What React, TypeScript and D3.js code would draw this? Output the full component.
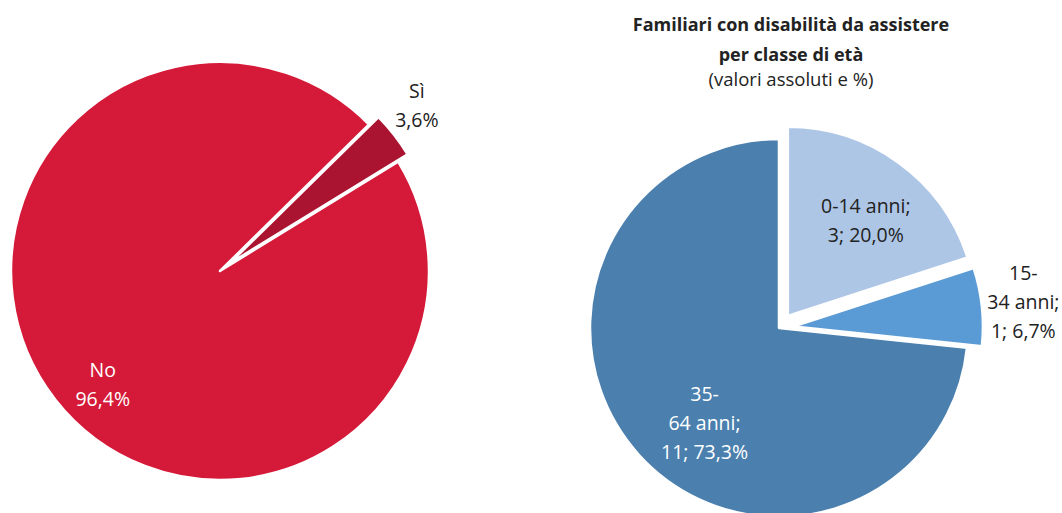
import * as React from 'react';
import * as d3 from 'd3';

// left pie: familiari con disabilità (sì / no)
const leftCats = ['Sì', 'No'];
const leftPct = [3.6, 96.4];
const leftColors = ['#ab1430', '#d51a39'];

// right pie: per classe di età
const rightCats = ['0-14 anni', '15-34 anni', '35-64 anni'];
const rightCounts = [3, 1, 11];
const rightPct = [20.0, 6.7, 73.3];
const rightColors = ['#adc6e6', '#5b9bd5', '#4a7fae'];

const titleLines = ['Familiari con disabilità da assistere', 'per classe di età'];
const subtitle = '(valori assoluti e %)';

const fmt = (v: number) => v.toFixed(1).replace('.', ',') + '%';
const rad = (deg: number) => (deg * Math.PI) / 180;
const FONT = "'Open Sans', sans-serif";

type Slice = {
  cat: string;
  value: number;
  color: string;
  lines: string[];
  textColor: string;
  explode: number;
  labelR: number; // fraction of radius
  labelRot: number; // degrees tweak
};

function Pie({ cx, cy, r, startDeg, slices }: { cx: number; cy: number; r: number; startDeg: number; slices: Slice[] }) {
  const pie = d3.pie<Slice>().sort(null).value(d => d.value)
    .startAngle(rad(startDeg)).endAngle(rad(startDeg + 360));
  const arc = d3.arc<d3.PieArcDatum<Slice>>().innerRadius(0).outerRadius(r);
  const arcs = pie(slices);
  const lh = 29;
  return (
    <g transform={`translate(${cx},${cy})`}>
      {arcs.map((a, i) => {
        const mid = (a.startAngle + a.endAngle) / 2;
        const ox = Math.sin(mid) * a.data.explode;
        const oy = -Math.cos(mid) * a.data.explode;
        return (
          <path key={i} d={arc(a) as string} transform={`translate(${ox},${oy})`}
            fill={a.data.color} stroke="#fff" strokeWidth={2.5} strokeLinejoin="round" />
        );
      })}
      {arcs.map((a, i) => {
        const mid = (a.startAngle + a.endAngle) / 2 + rad(a.data.labelRot);
        const lr = r * a.data.labelR;
        const lx = Math.sin(mid) * lr;
        const ly = -Math.cos(mid) * lr;
        const n = a.data.lines.length;
        return (
          <text key={'t' + i} x={lx} y={ly - ((n - 1) * lh) / 2} textAnchor="middle"
            fontFamily={FONT} fontSize={19.5} fill={a.data.textColor}>
            {a.data.lines.map((l, j) => (
              <tspan key={j} x={lx} dy={j === 0 ? '0.35em' : lh}>{l}</tspan>
            ))}
          </text>
        );
      })}
    </g>
  );
}

export default function App() {
  const left: Slice[] = leftCats.map((c, i) => ({
    cat: c,
    value: leftPct[i],
    color: leftColors[i],
    lines: [c, fmt(leftPct[i])],
    textColor: i === 0 ? '#222' : '#fff',
    explode: i === 0 ? 12 : 0,
    labelR: i === 0 ? 1.23 : 0.78,
    labelRot: i === 0 ? -2 : -6,
  }));

  const right: Slice[] = rightCats.map((c, i) => {
    const [a, b] = c.split(' ');
    const tail = `${rightCounts[i]}; ${fmt(rightPct[i])}`;
    const lines = i === 0 ? [c + ';', tail] : [a.split('-')[0] + '-', a.split('-')[1] + ' ' + b + ';', tail];
    return {
      cat: c,
      value: rightCounts[i],
      color: rightColors[i],
      lines,
      textColor: i === 2 ? '#fff' : '#222',
      explode: i === 2 ? 0 : 15,
      labelR: [0.73, 1.3, 0.64][i],
      labelRot: [3, 0, -10][i],
    };
  });

  return (
    <svg width={1062} height={513} style={{ position: 'absolute', left: 0, top: 0, background: '#fff' }}>
      <Pie cx={220} cy={271} r={209} startDeg={45.5} slices={left} />
      <Pie cx={779} cy={328} r={189} startDeg={0} slices={right} />
      <g fontFamily={FONT} textAnchor="middle" fill="#222">
        {titleLines.map((t, i) => (
          <text key={i} x={791} y={31 + i * 30} fontSize={18} fontWeight="bold">{t}</text>
        ))}
        <text x={791} y={86} fontSize={18.5}>{subtitle}</text>
      </g>
    </svg>
  );
}
